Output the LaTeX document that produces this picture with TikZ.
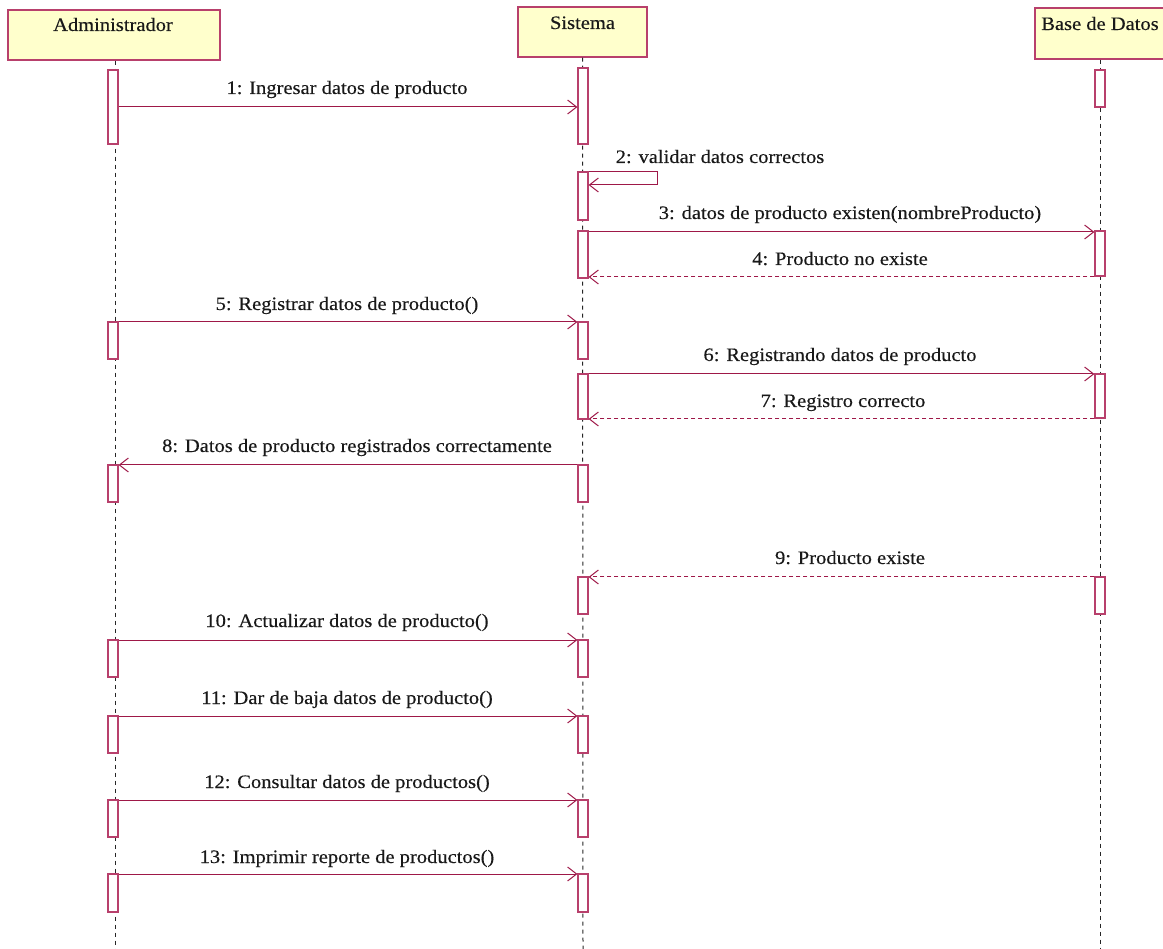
\documentclass[tikz,border=0pt]{standalone}
\usepackage{fontspec}
\setmainfont[FakeStretch=1.08,FakeBold=0.3]{Liberation Serif}
\usetikzlibrary{arrows.meta}
\definecolor{msgcol}{RGB}{158,24,72}
\definecolor{barcol}{RGB}{184,64,108}
\definecolor{hdrfill}{RGB}{255,255,204}
\tikzset{
  hdr/.style={draw=barcol, fill=hdrfill, line width=1.2pt, inner sep=0pt},
  actbar/.style={draw=barcol, fill=white, line width=1.2pt, minimum width=10pt, inner sep=0pt},
  lifeline/.style={black!85, dashed, dash pattern=on 4pt off 4pt, line width=1pt},
  msg/.style={msgcol, line width=1pt, -{Straight Barb[length=9pt,width=14pt,line width=1pt]}},
  reply/.style={msg, dash pattern=on 4pt off 3pt},
  lbl/.style={font=\fontsize{19}{22}\selectfont, text=black!90, inner sep=0pt, anchor=base}
}
% activation bar: name, x, top y, bottom y
\newcommand{\actbox}[4]{\node[actbar, minimum height={#4-#3}] (#1) at (#2,{(#3+#4)/2}) {};}
\begin{document}
\begin{tikzpicture}[x=1pt,y=-1pt]
\useasboundingbox (0,0) rectangle (1163,949);
% participants
\node[hdr, minimum width=212pt, minimum height=50pt] (admin) at (114,35) {};
\node[lbl] (adminT) at (113,31) {Administrador};
\node[hdr, minimum width=129pt, minimum height=50pt] (sist) at (582.5,32) {};
\node[lbl] (sistT) at (582.5,29) {Sistema};
\node[hdr, minimum width=132pt, minimum height=51pt] (bd) at (1101,33.5) {};
\node[lbl] (bdT) at (1100,30) {Base de Datos};
% lifelines
\draw[lifeline] (admin.south -| 115,0) -- (115,949);
\draw[lifeline] (sist.south) -- (583,949);
\draw[lifeline] (bd.south -| 1100,0) -- (1100,949);
% activation bars
\actbox{a1}{113}{70}{144}
\actbox{a2}{113}{322}{359}
\actbox{a3}{113}{465}{502}
\actbox{a4}{113}{640}{677}
\actbox{a5}{113}{716}{753}
\actbox{a6}{113}{800}{837}
\actbox{a7}{113}{874}{912}
\actbox{s1}{583}{68}{144}
\actbox{s2}{583}{172}{220}
\actbox{s3}{583}{231}{278}
\actbox{s4}{583}{322}{359}
\actbox{s5}{583}{374}{419}
\actbox{s6}{583}{465}{502}
\actbox{s7}{583}{577}{614}
\actbox{s8}{583}{640}{677}
\actbox{s9}{583}{716}{753}
\actbox{s10}{583}{800}{837}
\actbox{s11}{583}{874}{912}
\actbox{b1}{1100}{70}{107}
\actbox{b2}{1100}{231}{276}
\actbox{b3}{1100}{374}{418}
\actbox{b4}{1100}{577}{614}
% message heights
\coordinate (y1) at (0,107);
\coordinate (y2a) at (0,172);
\coordinate (y2b) at (0,185);
\coordinate (y3) at (0,232);
\coordinate (y4) at (0,277);
\coordinate (y5) at (0,322);
\coordinate (y6) at (0,374);
\coordinate (y7) at (0,419);
\coordinate (y8) at (0,465);
\coordinate (y9) at (0,577);
\coordinate (y10) at (0,640);
\coordinate (y11) at (0,716);
\coordinate (y12) at (0,800);
\coordinate (y13) at (0,874);
\coordinate (loop) at (657,0);
% messages
\draw[msg] (a1.east |- y1) -- (s1.west |- y1);
\draw[msg] (s2.east |- y2a) -- (loop |- y2a) -- (loop |- y2b) -- (s2.east |- y2b);
\draw[msg] (s3.east |- y3) -- (b2.west |- y3);
\draw[reply] (b2.west |- y4) -- (s3.east |- y4);
\draw[msg] (a2.east |- y5) -- (s4.west |- y5);
\draw[msg] (s5.east |- y6) -- (b3.west |- y6);
\draw[reply] (b3.west |- y7) -- (s5.east |- y7);
\draw[msg] (s6.west |- y8) -- (a3.east |- y8);
\draw[reply] (b4.west |- y9) -- (s7.east |- y9);
\draw[msg] (a4.east |- y10) -- (s8.west |- y10);
\draw[msg] (a5.east |- y11) -- (s9.west |- y11);
\draw[msg] (a6.east |- y12) -- (s10.west |- y12);
\draw[msg] (a7.east |- y13) -- (s11.west |- y13);
% message labels
\node[lbl] (l1) at (347,94) {1: Ingresar datos de producto};
\node[lbl] (l2) at (720,163) {2: validar datos correctos};
\node[lbl] (l3) at (850,219) {3: datos de producto existen(nombreProducto)};
\node[lbl] (l4) at (840,265) {4: Producto no existe};
\node[lbl] (l5) at (347,310) {5: Registrar datos de producto()};
\node[lbl] (l6) at (840,361) {6: Registrando datos de producto};
\node[lbl] (l7) at (843,407) {7: Registro correcto};
\node[lbl] (l8) at (357,452) {8: Datos de producto registrados correctamente};
\node[lbl] (l9) at (850,564) {9: Producto existe};
\node[lbl] (l10) at (347,627) {10: Actualizar datos de producto()};
\node[lbl] (l11) at (347,704) {11: Dar de baja datos de producto()};
\node[lbl] (l12) at (347,788) {12: Consultar datos de productos()};
\node[lbl] (l13) at (347,863) {13: Imprimir reporte de productos()};
\end{tikzpicture}
\end{document}
